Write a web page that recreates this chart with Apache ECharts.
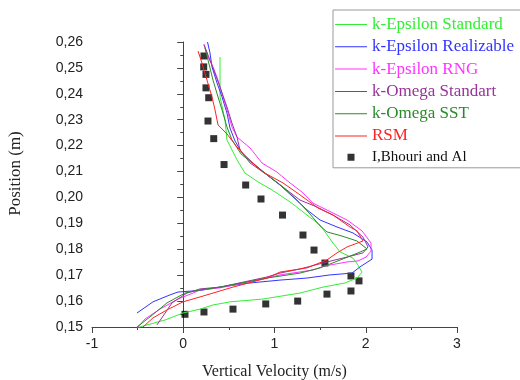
<!DOCTYPE html>
<html>
<head>
<meta charset="utf-8">
<script src="https://cdn.jsdelivr.net/npm/echarts@6/dist/echarts.min.js"></script>
<style>
  html, body { margin: 0; padding: 0; background: #fff; }
  #chart { width: 520px; height: 380px; }
</style>
</head>
<body>
<div id="chart"></div>
<script>
// [velocity (m/s), position (m)]
const kEpsilonStandard = [
  [0.403, 0.2542], [0.403, 0.2388], [0.458, 0.2299], [0.479, 0.2222], [0.589, 0.2145],
  [0.677, 0.2094], [0.819, 0.2060], [0.973, 0.2029], [1.170, 0.1983], [1.356, 0.1932],
  [1.499, 0.1894], [1.641, 0.1824], [1.718, 0.1790], [1.860, 0.1766], [1.915, 0.1739],
  [1.959, 0.1712], [1.904, 0.1689], [1.773, 0.1670], [1.532, 0.1654], [1.279, 0.1631],
  [0.874, 0.1608], [0.512, 0.1597], [0.326, 0.1585], [0.184, 0.1569], [-0.003, 0.1554],
  [-0.200, 0.1527], [-0.397, 0.1508], [-0.507, 0.1497]
];
const kEpsilonRealizable = [
  [0.266, 0.2600], [0.293, 0.2558], [0.315, 0.2504], [0.370, 0.2442], [0.425, 0.2388],
  [0.479, 0.2326], [0.512, 0.2268], [0.567, 0.2218], [0.644, 0.2172], [0.764, 0.2133],
  [0.918, 0.2087], [1.060, 0.2048], [1.203, 0.2002], [1.356, 0.1952], [1.499, 0.1913],
  [1.685, 0.1886], [1.860, 0.1863], [2.014, 0.1828], [2.069, 0.1797], [2.069, 0.1762],
  [1.937, 0.1732], [1.849, 0.1708], [1.608, 0.1701], [1.356, 0.1689], [1.060, 0.1681],
  [0.732, 0.1670], [0.403, 0.1654], [0.184, 0.1641], [-0.058, 0.1635], [-0.145, 0.1624],
  [-0.332, 0.1597], [-0.507, 0.1554]
];
const kEpsilonRNG = [
  [0.227, 0.2592], [0.271, 0.2542], [0.326, 0.2504], [0.381, 0.2453], [0.436, 0.2388],
  [0.490, 0.2326], [0.534, 0.2272], [0.589, 0.2233], [0.732, 0.2191], [0.863, 0.2133],
  [1.027, 0.2098], [1.170, 0.2056], [1.301, 0.2021], [1.422, 0.1978], [1.641, 0.1940],
  [1.795, 0.1913], [1.959, 0.1871], [2.058, 0.1824], [2.058, 0.1793], [2.003, 0.1770],
  [1.915, 0.1755], [1.795, 0.1751], [1.542, 0.1735], [1.422, 0.1720], [1.060, 0.1701],
  [0.918, 0.1689], [0.403, 0.1651], [0.184, 0.1643], [0.107, 0.1631], [-0.058, 0.1608],
  [-0.255, 0.1569], [-0.419, 0.1531], [-0.496, 0.1500]
];
const kOmegaStandart = [
  [0.227, 0.2589], [0.293, 0.2531], [0.403, 0.2426], [0.479, 0.2349], [0.534, 0.2287],
  [0.589, 0.2233], [0.622, 0.2183], [0.732, 0.2133], [0.918, 0.2087], [1.093, 0.2040],
  [1.279, 0.1990], [1.466, 0.1963], [1.641, 0.1932], [1.827, 0.1894], [1.970, 0.1847],
  [2.025, 0.1809], [1.970, 0.1786], [1.795, 0.1770], [1.575, 0.1751], [1.279, 0.1724],
  [1.060, 0.1708], [0.918, 0.1693], [0.403, 0.1654], [0.184, 0.1647], [0.041, 0.1631],
  [-0.123, 0.1593], [-0.288, 0.1508]
];
const kOmegaSST = [
  [0.238, 0.2577], [0.271, 0.2531], [0.326, 0.2453], [0.381, 0.2388], [0.425, 0.2338],
  [0.479, 0.2272], [0.534, 0.2222], [0.633, 0.2168], [0.808, 0.2118], [0.951, 0.2079],
  [1.093, 0.2040], [1.247, 0.1990], [1.389, 0.1936], [1.499, 0.1890], [1.575, 0.1867],
  [1.740, 0.1851], [1.904, 0.1832], [2.014, 0.1801], [1.915, 0.1786], [1.773, 0.1766],
  [1.499, 0.1728], [1.279, 0.1708], [0.918, 0.1689], [0.403, 0.1654], [0.184, 0.1643],
  [0.019, 0.1631], [-0.178, 0.1593], [-0.364, 0.1539], [-0.507, 0.1500]
];
const rsm = [
  [0.162, 0.2565], [0.205, 0.2519], [0.260, 0.2453], [0.315, 0.2388], [0.348, 0.2338],
  [0.381, 0.2280], [0.479, 0.2245], [0.589, 0.2195], [0.699, 0.2153], [0.874, 0.2098],
  [1.093, 0.2056], [1.279, 0.2010], [1.477, 0.1959], [1.641, 0.1932], [1.827, 0.1886],
  [1.904, 0.1871], [1.970, 0.1832], [1.795, 0.1809], [1.685, 0.1786], [1.575, 0.1759],
  [1.356, 0.1728], [1.060, 0.1712], [0.918, 0.1689], [0.545, 0.1654], [0.184, 0.1616],
  [-0.003, 0.1597], [-0.178, 0.1566], [-0.332, 0.1535], [-0.441, 0.1500]
];
const experiment = [
  [0.227, 0.2546], [0.224, 0.2504], [0.249, 0.2475], [0.249, 0.2423], [0.279, 0.2385],
  [0.271, 0.2295], [0.334, 0.2227], [0.447, 0.2127], [0.684, 0.2048], [0.852, 0.1994],
  [1.088, 0.1932], [1.312, 0.1855], [1.433, 0.1797], [1.553, 0.1747], [1.838, 0.1697],
  [1.926, 0.1678], [1.838, 0.1639], [1.575, 0.1627], [1.254, 0.1600], [0.904, 0.1589],
  [0.545, 0.1569], [0.227, 0.1558], [0.019, 0.1549]
];

const lineSeries = [
  { name: "k-Epsilon Standard", data: kEpsilonStandard, color: "#33ee33" },
  { name: "k-Epsilon Realizable", data: kEpsilonRealizable, color: "#3333ff" },
  { name: "k-Epsilon RNG", data: kEpsilonRNG, color: "#ff33ff" },
  { name: "k-Omega Standart", data: kOmegaStandart, color: "#993399" },
  { name: "k-Omega SST", data: kOmegaSST, color: "#2a8a2a" },
  { name: "RSM", data: rsm, color: "#ff2222" },
];
const expName = "I,Bhouri and Al";

// legend icons inside a 32x7 box; tiny dots keep the box size so nothing is stretched
const lineIcon = "path://M0,3h32v1h-32z M16,0h0.01v0.01h-0.01z M16,7h0.01v0.01h-0.01z";
const squareIcon = "path://M12.5,0h7v7h-7z M0,3.5h0.01v0.01h-0.01z M32,3.5h0.01v0.01h-0.01z";

const chart = echarts.init(document.getElementById("chart"), null, { renderer: "canvas" });

const axisCommon = {
  axisLine: { lineStyle: { color: "#444", width: 1 } },
  axisTick: { inside: false, length: 6, lineStyle: { color: "#444" } },
  minorTick: { show: true, splitNumber: 2, length: 3, lineStyle: { color: "#444" } },
  splitLine: { show: false },
};

chart.setOption({
  animation: false,
  backgroundColor: "#fff",
  grid: { left: 92, right: 63, top: 42, bottom: 53, outerBoundsMode: "none" },
  legend: {
    orient: "vertical",
    left: 333,
    top: 10,
    itemWidth: 32,
    itemHeight: 7,
    itemGap: 5.3,
    padding: [6, 10, 3, 2],
    borderColor: "#999",
    borderWidth: 1,
    data: [
      ...lineSeries.map((s) => ({
        name: s.name,
        icon: lineIcon,
        itemStyle: { color: s.color },
        textStyle: { color: s.color },
      })),
      { name: expName, icon: squareIcon, itemStyle: { color: "#000" }, textStyle: { color: "#111", fontSize: 15 } },
    ],
    textStyle: { fontFamily: "Liberation Serif", fontSize: 17 },
  },
  xAxis: {
    type: "value",
    min: -1,
    max: 3,
    interval: 1,
    name: "Vertical Velocity (m/s)",
    nameLocation: "middle",
    nameGap: 37,
    nameTextStyle: { fontFamily: "Liberation Serif", fontSize: 16, color: "#222" },
    axisLabel: { fontFamily: "Liberation Sans", fontSize: 14, color: "#222", margin: 10 },
    ...axisCommon,
  },
  yAxis: {
    type: "value",
    min: 0.15,
    max: 0.26,
    interval: 0.01,
    name: "Position (m)",
    nameLocation: "middle",
    nameGap: 68,
    nameTextStyle: { fontFamily: "Liberation Serif", fontSize: 17, color: "#222", padding: [0, 0, 0, 22] },
    axisLabel: {
      fontFamily: "Liberation Sans",
      fontSize: 14,
      color: "#222",
      margin: 9,
      formatter: (v) => v.toFixed(2).replace(".", ","),
    },
    ...axisCommon,
  },
  series: [
    ...lineSeries.map((s) => ({
      name: s.name,
      type: "line",
      data: s.data,
      showSymbol: false,
      symbol: "none",
      color: s.color,
      lineStyle: { color: s.color, width: 1 },
    })),
    {
      name: expName,
      type: "scatter",
      data: experiment,
      symbol: "rect",
      symbolSize: 7,
      itemStyle: { color: "#000" },
    },
  ],
});
</script>
</body>
</html>
